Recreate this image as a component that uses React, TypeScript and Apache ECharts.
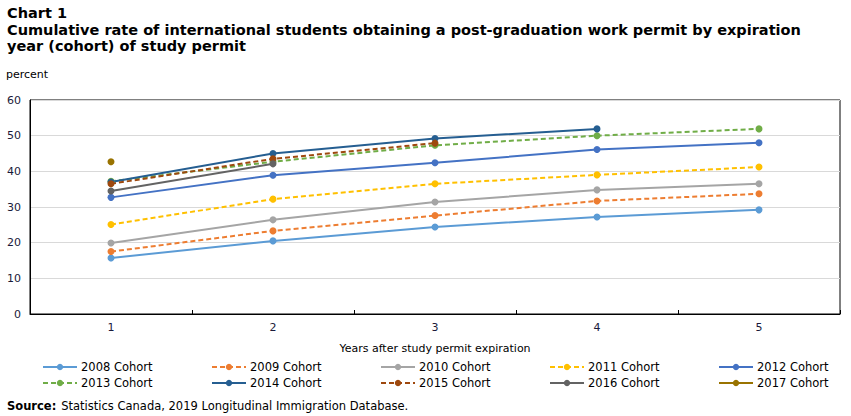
import React, { useEffect, useRef } from "react";
import * as echarts from "echarts";

const years = ["1", "2", "3", "4", "5"];
const cohorts = [
  "2008 Cohort", "2009 Cohort", "2010 Cohort", "2011 Cohort", "2012 Cohort",
  "2013 Cohort", "2014 Cohort", "2015 Cohort", "2016 Cohort", "2017 Cohort",
];
const c2008 = [15.7, 20.5, 24.4, 27.2, 29.2];
const c2009 = [17.5, 23.3, 27.6, 31.7, 33.7];
const c2010 = [19.9, 26.4, 31.4, 34.8, 36.5];
const c2011 = [25.1, 32.2, 36.5, 39.0, 41.2];
const c2012 = [32.7, 38.9, 42.4, 46.1, 48.0];
const c2013 = [37.2, 42.7, 47.3, 50.0, 51.9];
const c2014 = [37.0, 45.0, 49.2, 51.9, null];
const c2015 = [36.5, 43.5, 47.9, null, null];
const c2016 = [34.5, 42.1, null, null, null];
const c2017 = [42.7, null, null, null, null];
const seriesValues = [c2008, c2009, c2010, c2011, c2012, c2013, c2014, c2015, c2016, c2017];
const colors = ["#5B9BD5", "#ED7D31", "#A5A5A5", "#FFC000", "#4472C4", "#70AD47", "#255E91", "#9E480E", "#636363", "#997300"];
const dashed = [false, true, false, true, false, true, false, true, false, false];

const titleLines = [
  "Chart 1",
  "Cumulative rate of international students obtaining a post-graduation work permit by expiration",
  "year (cohort) of study permit",
];

export default function App() {
  const ref = useRef<HTMLDivElement>(null);
  useEffect(() => {
    document.body.style.margin = "0";
    const chart = echarts.init(ref.current!, null, { renderer: "svg" });
    const font = "DejaVu Sans, Verdana, sans-serif";
    const series = cohorts.map((name, i) => ({
      name,
      type: "line",
      data: seriesValues[i],
      symbol: "circle",
      symbolSize: 7,
      showSymbol: true,
      connectNulls: false,
      itemStyle: { color: colors[i] },
      lineStyle: { color: colors[i], width: 2, type: dashed[i] ? [5, 3] : "solid" },
    }));
    const legends = cohorts.map((name, i) => ({
      data: [name],
      left: 42 + (i % 5) * 169,
      top: 361 + Math.floor(i / 5) * 16,
      padding: 0,
      itemWidth: 34,
      itemHeight: 8,
      textStyle: { fontFamily: font, fontSize: 11.5, color: "#000", padding: [0, 0, 0, -1] },
    }));
    chart.setOption({
      animation: false,
      backgroundColor: "#ffffff",
      title: [
        {
          text: titleLines.join("\n"),
          left: 7,
          top: 5,
          padding: 0,
          textStyle: { fontFamily: "DejaVu Sans, Verdana, sans-serif", fontWeight: "bold", fontSize: 14.5, lineHeight: 16.5, color: "#000" },
        },
        {
          text: "percent",
          left: 6,
          top: 69,
          padding: 0,
          textStyle: { fontFamily: font, fontWeight: "normal", fontSize: 11, color: "#000" },
        },
        {
          text: "{b|Source:} {n|Statistics Canada, 2019 Longitudinal Immigration Database.}",
          left: 7,
          top: 397,
          padding: 0,
          textStyle: {
            rich: {
              b: { fontFamily: font, fontWeight: "bold", fontSize: 11.5, color: "#000" },
              n: { fontFamily: font, fontWeight: "normal", fontSize: 11.5, color: "#000" },
            },
          },
        },
      ],
      legend: legends,
      grid: { left: 30, right: 11, top: 100, bottom: 102, show: true, borderColor: "#000", borderWidth: 1, containLabel: false },
      xAxis: {
        type: "category",
        data: years,
        boundaryGap: true,
        name: "Years after study permit expiration",
        nameLocation: "middle",
        nameGap: 29,
        nameTextStyle: { fontFamily: font, fontSize: 11, color: "#000" },
        axisLine: { lineStyle: { color: "#000", width: 1 } },
        axisTick: { show: true, inside: true, length: 4, lineStyle: { color: "#000" } },
        axisLabel: { fontFamily: font, fontSize: 11, color: "#1a1a3a", margin: 8 },
      },
      yAxis: {
        type: "value",
        min: 0,
        max: 60,
        interval: 10,
        axisLine: { show: true, lineStyle: { color: "#000", width: 1 } },
        axisTick: { show: false },
        splitLine: { lineStyle: { color: "#d9d9d9", width: 1 } },
        axisLabel: { fontFamily: font, fontSize: 11, color: "#1a1a3a", margin: 9 },
      },
      series,
    });
    return () => chart.dispose();
  }, []);
  return <div ref={ref} style={{ position: "absolute", left: 0, top: 0, width: 851, height: 416 }} />;
}
